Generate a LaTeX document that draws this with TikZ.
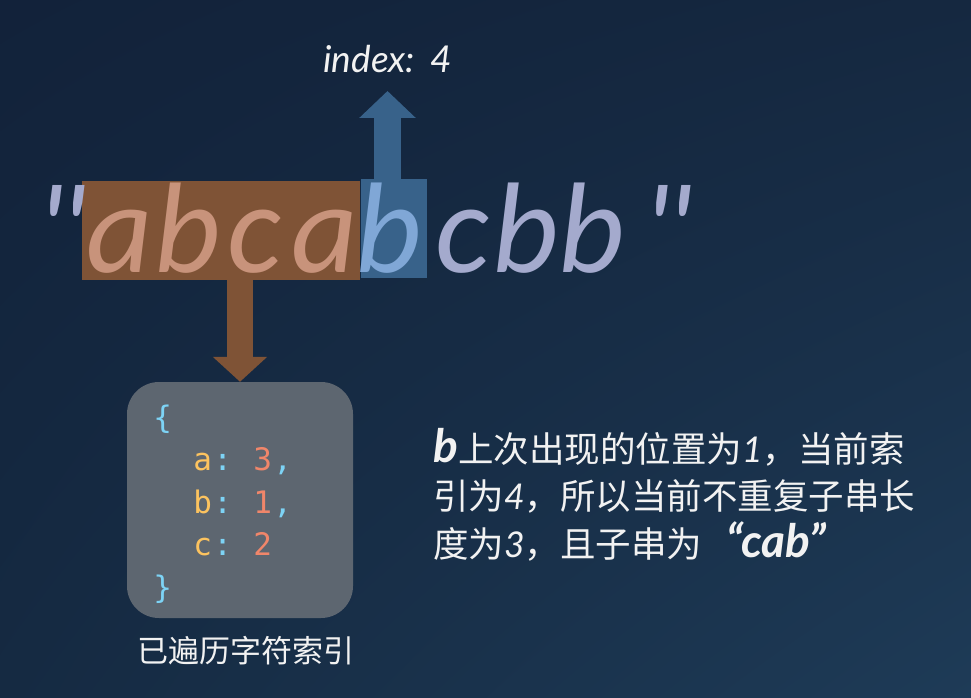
\documentclass[tikz,border=0pt]{standalone}
\usepackage{fontspec}
\setmainfont{Noto Sans CJK SC}
\newfontfamily\strfont{Carlito}
\newfontfamily\handfont{Lato}
\newfontfamily\codefont{DejaVu Sans Mono}
\usetikzlibrary{arrows.meta,shadings}
\definecolor{bgTL}{HTML}{12223A}
\definecolor{bgTR}{HTML}{152840}
\definecolor{bgBL}{HTML}{152A42}
\definecolor{bgBR}{HTML}{1E3B57}
\definecolor{brownfill}{HTML}{7F5336}
\definecolor{bluefill}{HTML}{38628A}
\definecolor{inbrown}{HTML}{C8937B}
\definecolor{inblue}{HTML}{80A7D6}
\definecolor{strtext}{HTML}{A4AACD}
\definecolor{codegray}{HTML}{5D6670}
\definecolor{cbrace}{HTML}{7DD3F5}
\definecolor{ckey}{HTML}{FCC35F}
\definecolor{cval}{HTML}{F0866A}
\definecolor{softwhite}{HTML}{F2F2F2}
\newcommand\cch[2]{\makebox[20pt][c]{\textcolor{#1}{#2}}}
\newcommand\csp{\makebox[20pt]{}}
\begin{document}
\begin{tikzpicture}[x=1pt,y=-1pt,
  strch/.style={anchor=base, inner sep=0pt, font=\strfont\itshape\fontsize{129}{129}\selectfont},
  hlbox/.style={draw=none, inner sep=0pt},
  fatarrow/.style={line width=26pt, -{Triangle[width=53pt,length=25pt]}},
  codebox/.style={fill=codegray, rounded corners=32pt, inner sep=0pt},
  codeline/.style={anchor=base west, inner sep=0pt, font=\codefont\fontsize{31}{31}\selectfont},
  cjktext/.style={anchor=base west, inner sep=0pt, text=softwhite, font=\fontsize{35.5}{40}\selectfont}]
\useasboundingbox (0,0) rectangle (971,698);
\shade[upper left=bgTL, upper right=bgTR, lower left=bgBL, lower right=bgBR] (0,0) rectangle (971,698);

% highlight boxes
\node[hlbox, fill=brownfill, minimum width=278pt, minimum height=99pt] (brownbox) at (221,230.5) {};
\node[hlbox, fill=bluefill, minimum width=66pt, minimum height=99pt] (bluebox) at (393.5,228.5) {};

% the string
\node[strch, text=strtext] (q1) at (60,272) {"};
\node[strch, text=inbrown] (c1) at (120,272) {a};
\node[strch, text=inbrown] (c2) at (188,272) {b};
\node[strch, text=inbrown] (c3) at (254,272) {c};
\node[strch, text=inbrown] (c4) at (325,272) {a};
\node[strch, text=inblue] (c5) at (389,272) {b};
\node[strch, text=strtext] (c6) at (462,272) {c};
\node[strch, text=strtext] (c7) at (525.5,272) {b};
\node[strch, text=strtext] (c8) at (592,272) {b};
\node[strch, text=strtext] (q2) at (666,272) {"};

% index label and up arrow
\node[anchor=base, inner sep=0pt, text=softwhite, font=\handfont\itshape\fontsize{37}{37}\selectfont] (indexlabel) at (387.5,73) {index:\hspace{15pt}4};
\coordinate (uptip) at (387.5,91);
\draw[draw=bluefill, line width=27pt, -{Triangle[width=55pt,length=27pt]}] (bluebox.north -| uptip) -- (uptip);

% code box
\node[codebox, minimum width=226pt, minimum height=236pt] (codebox) at (240,500) {};
\draw[fatarrow, draw=brownfill] (brownbox.south -| codebox.north) -- (codebox.north);

\node[codeline] (cl0) at (152.5,428) {\cch{cbrace}{\{}};
\node[codeline] (cl1) at (152.5,470.5) {\csp\csp\cch{ckey}{a}\cch{cbrace}{:}\csp\cch{cval}{3}\cch{cbrace}{,}};
\node[codeline] (cl2) at (152.5,513) {\csp\csp\cch{ckey}{b}\cch{cbrace}{:}\csp\cch{cval}{1}\cch{cbrace}{,}};
\node[codeline] (cl3) at (152.5,555.5) {\csp\csp\cch{ckey}{c}\cch{cbrace}{:}\csp\cch{cval}{2}};
\node[codeline] (cl4) at (152.5,598) {\cch{cbrace}{\}}};

\node[anchor=base, inner sep=0pt, text=softwhite, font=\fontsize{31}{31}\selectfont] (codelabel) at (246,662) {已遍历字符索引};

% explanation
\node[cjktext] (t1) at (433,462.5) {{\handfont\bfseries\itshape\fontsize{46}{46}\selectfont b}上次出现的位置为{\handfont\itshape 1}，当前索};
\node[cjktext] (t2) at (433,509.5) {引为{\handfont\itshape 4}，所以当前不重复子串长};
\node[cjktext] (t3) at (433,557) {度为{\handfont\itshape 3}，且子串为\hspace{24pt}{\handfont\bfseries\itshape\fontsize{46}{46}\selectfont “cab”}};
\end{tikzpicture}
\end{document}
